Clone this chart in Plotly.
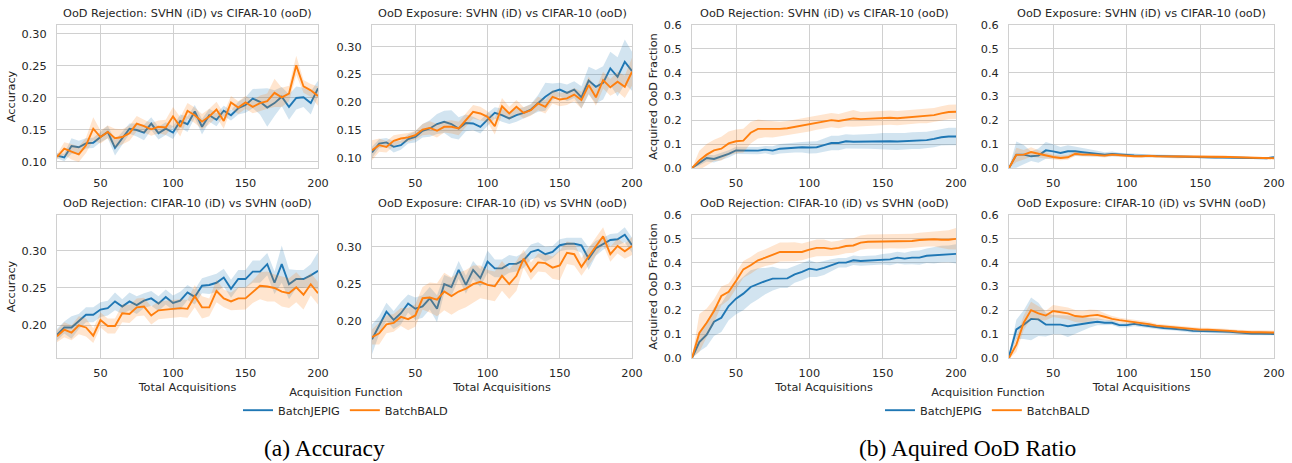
import plotly.graph_objects as go

W, H = 1292, 463
X = list(range(20, 201, 5))

# ---------- (a) Accuracy ----------
p1_jepig = [0.110,0.107,0.125,0.123,0.129,0.130,0.139,0.147,0.122,0.137,0.152,0.150,0.146,0.160,0.145,0.152,0.146,0.164,0.159,0.179,0.155,0.173,0.166,0.180,0.173,0.184,0.189,0.199,0.194,0.185,0.192,0.202,0.186,0.200,0.201,0.192,0.215]
p1_jepig_sd = [0.004,0.006,0.012,0.010,0.008,0.008,0.008,0.010,0.012,0.010,0.008,0.010,0.012,0.010,0.010,0.010,0.010,0.010,0.012,0.010,0.012,0.010,0.010,0.008,0.008,0.010,0.012,0.015,0.020,0.030,0.020,0.015,0.020,0.018,0.015,0.018,0.012]
p1_bald = [0.108,0.121,0.116,0.112,0.126,0.152,0.139,0.147,0.137,0.139,0.145,0.160,0.156,0.151,0.155,0.154,0.171,0.155,0.180,0.173,0.163,0.171,0.182,0.164,0.193,0.185,0.193,0.186,0.192,0.195,0.208,0.201,0.207,0.251,0.218,0.212,0.203]
p1_bald_sd = [0.004,0.010,0.012,0.012,0.012,0.018,0.010,0.010,0.015,0.012,0.012,0.012,0.010,0.010,0.010,0.012,0.015,0.015,0.012,0.012,0.012,0.012,0.012,0.012,0.010,0.010,0.010,0.010,0.012,0.012,0.022,0.015,0.012,0.015,0.010,0.010,0.015]

p2_jepig = [0.110,0.126,0.128,0.120,0.123,0.134,0.138,0.149,0.153,0.161,0.165,0.161,0.153,0.163,0.162,0.156,0.169,0.181,0.177,0.171,0.177,0.181,0.187,0.198,0.210,0.219,0.223,0.217,0.223,0.209,0.239,0.228,0.235,0.261,0.246,0.273,0.256]
p2_jepig_sd = [0.010,0.008,0.008,0.010,0.008,0.008,0.010,0.012,0.015,0.018,0.020,0.025,0.020,0.015,0.012,0.012,0.012,0.010,0.012,0.010,0.012,0.010,0.010,0.015,0.025,0.015,0.012,0.015,0.015,0.020,0.025,0.030,0.030,0.030,0.035,0.040,0.035]
p2_bald = [0.114,0.123,0.120,0.131,0.135,0.137,0.141,0.151,0.154,0.149,0.156,0.156,0.153,0.168,0.183,0.180,0.174,0.157,0.193,0.180,0.192,0.181,0.186,0.198,0.192,0.210,0.205,0.207,0.214,0.204,0.231,0.209,0.240,0.227,0.237,0.228,0.255]
p2_bald_sd = [0.018,0.012,0.010,0.010,0.008,0.008,0.008,0.010,0.012,0.012,0.010,0.012,0.012,0.012,0.012,0.012,0.010,0.015,0.015,0.012,0.012,0.010,0.010,0.012,0.012,0.012,0.012,0.012,0.012,0.015,0.015,0.015,0.015,0.015,0.018,0.020,0.025]

p3_jepig = [0.187,0.197,0.197,0.205,0.214,0.214,0.221,0.223,0.232,0.225,0.232,0.227,0.233,0.236,0.229,0.238,0.230,0.233,0.244,0.238,0.253,0.254,0.257,0.264,0.249,0.262,0.262,0.272,0.272,0.282,0.257,0.282,0.255,0.262,0.262,0.267,0.273]
p3_jepig_sd = [0.008,0.008,0.015,0.010,0.010,0.010,0.010,0.010,0.012,0.010,0.012,0.012,0.010,0.010,0.010,0.010,0.010,0.012,0.010,0.010,0.010,0.012,0.012,0.012,0.012,0.012,0.012,0.015,0.015,0.015,0.015,0.025,0.020,0.012,0.012,0.015,0.025]
p3_bald = [0.185,0.194,0.190,0.200,0.197,0.186,0.207,0.199,0.199,0.216,0.215,0.224,0.225,0.213,0.220,0.221,0.222,0.223,0.222,0.239,0.224,0.224,0.246,0.236,0.232,0.236,0.236,0.245,0.253,0.252,0.250,0.245,0.243,0.251,0.241,0.255,0.243]
p3_bald_sd = [0.008,0.010,0.010,0.012,0.012,0.010,0.010,0.010,0.010,0.012,0.012,0.012,0.012,0.012,0.012,0.012,0.012,0.012,0.012,0.015,0.015,0.012,0.015,0.012,0.012,0.015,0.015,0.015,0.018,0.020,0.018,0.020,0.020,0.020,0.020,0.015,0.015]

p4_jepig = [0.176,0.195,0.213,0.202,0.211,0.224,0.217,0.220,0.231,0.217,0.250,0.246,0.269,0.249,0.269,0.258,0.280,0.271,0.271,0.277,0.277,0.282,0.293,0.296,0.290,0.293,0.302,0.304,0.304,0.302,0.284,0.298,0.304,0.309,0.310,0.316,0.302]
p4_jepig_sd = [0.020,0.012,0.012,0.012,0.015,0.012,0.015,0.015,0.015,0.018,0.012,0.012,0.012,0.012,0.012,0.012,0.015,0.012,0.012,0.012,0.010,0.010,0.010,0.010,0.010,0.008,0.008,0.008,0.008,0.010,0.015,0.010,0.008,0.008,0.008,0.010,0.010]
p4_bald = [0.179,0.184,0.196,0.198,0.206,0.203,0.208,0.231,0.232,0.229,0.240,0.234,0.240,0.244,0.250,0.253,0.249,0.247,0.261,0.250,0.261,0.284,0.267,0.279,0.278,0.272,0.275,0.292,0.290,0.273,0.287,0.301,0.314,0.290,0.301,0.294,0.301]
p4_bald_sd = [0.010,0.015,0.012,0.012,0.012,0.015,0.015,0.015,0.020,0.022,0.025,0.025,0.025,0.025,0.025,0.022,0.020,0.020,0.020,0.020,0.020,0.012,0.012,0.012,0.012,0.015,0.020,0.015,0.015,0.012,0.012,0.012,0.012,0.010,0.010,0.010,0.012]

# ---------- (b) Acquired OoD fraction ----------
p5_jepig = [0.0,0.021,0.042,0.038,0.049,0.059,0.074,0.073,0.073,0.073,0.077,0.073,0.081,0.084,0.087,0.087,0.086,0.087,0.096,0.105,0.105,0.112,0.110,0.111,0.111,0.112,0.112,0.112,0.111,0.112,0.115,0.115,0.117,0.122,0.129,0.132,0.132]
p5_jepig_sd = [0.0,0.010,0.015,0.015,0.015,0.015,0.015,0.015,0.015,0.015,0.015,0.018,0.020,0.020,0.022,0.022,0.025,0.025,0.028,0.030,0.030,0.030,0.030,0.030,0.030,0.032,0.035,0.035,0.035,0.035,0.035,0.035,0.035,0.035,0.035,0.037,0.037]
p5_bald = [0.0,0.032,0.056,0.074,0.081,0.103,0.112,0.115,0.148,0.164,0.164,0.163,0.164,0.167,0.173,0.178,0.183,0.190,0.197,0.201,0.197,0.204,0.208,0.205,0.207,0.207,0.209,0.211,0.209,0.212,0.214,0.218,0.218,0.222,0.229,0.235,0.236]
p5_bald_sd = [0.0,0.040,0.045,0.045,0.050,0.050,0.050,0.050,0.045,0.040,0.035,0.035,0.030,0.030,0.030,0.030,0.030,0.030,0.030,0.030,0.030,0.030,0.035,0.030,0.030,0.030,0.030,0.030,0.030,0.030,0.030,0.030,0.030,0.030,0.030,0.030,0.030]

p6_jepig = [0.0,0.056,0.056,0.049,0.052,0.074,0.070,0.063,0.070,0.070,0.066,0.063,0.060,0.056,0.059,0.056,0.056,0.053,0.052,0.051,0.049,0.049,0.049,0.048,0.048,0.046,0.046,0.045,0.044,0.044,0.044,0.042,0.042,0.041,0.041,0.041,0.045]
p6_jepig_sd = [0.0,0.055,0.040,0.020,0.030,0.035,0.030,0.025,0.025,0.020,0.018,0.015,0.012,0.010,0.010,0.008,0.008,0.008,0.007,0.007,0.006,0.006,0.006,0.006,0.006,0.005,0.005,0.005,0.005,0.005,0.004,0.004,0.004,0.004,0.004,0.004,0.004]
p6_bald = [0.0,0.055,0.056,0.067,0.060,0.052,0.046,0.042,0.045,0.060,0.056,0.056,0.055,0.052,0.056,0.053,0.051,0.049,0.049,0.051,0.049,0.049,0.048,0.048,0.048,0.049,0.049,0.048,0.049,0.048,0.046,0.045,0.044,0.042,0.041,0.041,0.041]
p6_bald_sd = [0.0,0.030,0.020,0.020,0.015,0.012,0.010,0.010,0.010,0.010,0.008,0.008,0.008,0.008,0.007,0.007,0.006,0.006,0.006,0.006,0.006,0.006,0.006,0.008,0.006,0.006,0.005,0.005,0.005,0.005,0.005,0.004,0.004,0.004,0.004,0.004,0.004]

p7_jepig = [0.0,0.067,0.098,0.152,0.169,0.218,0.249,0.270,0.298,0.312,0.323,0.333,0.334,0.334,0.351,0.361,0.375,0.370,0.378,0.389,0.400,0.400,0.410,0.407,0.409,0.410,0.414,0.414,0.421,0.417,0.421,0.421,0.429,0.431,0.436,0.437,0.437]
p7_jepig_sd = [0.0,0.040,0.050,0.060,0.060,0.060,0.065,0.070,0.070,0.065,0.055,0.050,0.040,0.040,0.035,0.035,0.035,0.030,0.030,0.025,0.020,0.020,0.020,0.020,0.020,0.020,0.022,0.025,0.025,0.025,0.028,0.030,0.030,0.035,0.035,0.035,0.040]
p7_bald = [0.0,0.105,0.148,0.197,0.260,0.278,0.323,0.372,0.389,0.410,0.421,0.432,0.445,0.445,0.446,0.445,0.455,0.462,0.462,0.458,0.462,0.470,0.472,0.484,0.488,0.488,0.488,0.491,0.489,0.489,0.491,0.495,0.498,0.498,0.496,0.496,0.500]
p7_bald_sd = [0.0,0.080,0.060,0.050,0.040,0.035,0.035,0.035,0.035,0.035,0.035,0.040,0.040,0.040,0.040,0.035,0.035,0.035,0.035,0.030,0.030,0.030,0.030,0.030,0.030,0.030,0.030,0.030,0.030,0.030,0.030,0.030,0.030,0.030,0.035,0.040,0.045]

p8_jepig = [0.007,0.120,0.140,0.164,0.162,0.140,0.140,0.140,0.133,0.139,0.145,0.148,0.152,0.148,0.148,0.138,0.138,0.143,0.138,0.133,0.129,0.126,0.124,0.122,0.118,0.114,0.114,0.114,0.112,0.111,0.110,0.107,0.104,0.103,0.103,0.103,0.101]
p8_jepig_sd = [0.005,0.040,0.060,0.090,0.070,0.050,0.040,0.040,0.045,0.035,0.030,0.020,0.015,0.012,0.010,0.010,0.010,0.010,0.010,0.008,0.008,0.008,0.008,0.008,0.008,0.008,0.008,0.008,0.008,0.008,0.008,0.008,0.008,0.008,0.008,0.008,0.006]
p8_bald = [0.0,0.056,0.148,0.201,0.187,0.178,0.197,0.192,0.187,0.176,0.173,0.178,0.181,0.173,0.164,0.159,0.155,0.150,0.148,0.142,0.136,0.133,0.132,0.126,0.124,0.121,0.119,0.119,0.118,0.117,0.114,0.111,0.108,0.108,0.108,0.107,0.107]
p8_bald_sd = [0.005,0.030,0.030,0.035,0.030,0.020,0.025,0.025,0.025,0.025,0.025,0.025,0.020,0.015,0.012,0.010,0.010,0.010,0.010,0.010,0.008,0.008,0.008,0.008,0.008,0.008,0.008,0.008,0.008,0.008,0.008,0.008,0.008,0.008,0.008,0.008,0.008]

panel_titles = [
    "OoD Rejection: SVHN (iD) vs CIFAR-10 (ooD)",
    "OoD Exposure: SVHN (iD) vs CIFAR-10 (ooD)",
    "OoD Rejection: SVHN (iD) vs CIFAR-10 (ooD)",
    "OoD Exposure: SVHN (iD) vs CIFAR-10 (ooD)",
    "OoD Rejection: CIFAR-10 (iD) vs SVHN (ooD)",
    "OoD Exposure: CIFAR-10 (iD) vs SVHN (ooD)",
    "OoD Rejection: CIFAR-10 (iD) vs SVHN (ooD)",
    "OoD Exposure: CIFAR-10 (iD) vs SVHN (ooD)",
]
series_names = ["BatchJEPIG", "BatchBALD"]
legend_title = "Acquisition Function"
x_title = "Total Acquisitions"
y_titles = {0: "Accuracy", 2: "Acquired OoD Fraction"}
captions = ["(a) Accuracy", "(b) Aquired OoD Ratio"]

# panels: (row, col, jepig, jepig_sd, bald, bald_sd, y-range, dtick, fmt)
panels = [
    (0, 0, p1_jepig, p1_jepig_sd, p1_bald, p1_bald_sd, [0.0906, 0.314], 0.05, ".2f"),
    (0, 1, p2_jepig, p2_jepig_sd, p2_bald, p2_bald_sd, [0.082, 0.339], 0.05, ".2f"),
    (0, 2, p5_jepig, p5_jepig_sd, p5_bald, p5_bald_sd, [0.0, 0.6], 0.1, ".1f"),
    (0, 3, p6_jepig, p6_jepig_sd, p6_bald, p6_bald_sd, [0.0, 0.6], 0.1, ".1f"),
    (1, 0, p3_jepig, p3_jepig_sd, p3_bald, p3_bald_sd, [0.156, 0.348], 0.05, ".2f"),
    (1, 1, p4_jepig, p4_jepig_sd, p4_bald, p4_bald_sd, [0.151, 0.3425], 0.05, ".2f"),
    (1, 2, p7_jepig, p7_jepig_sd, p7_bald, p7_bald_sd, [0.0, 0.6], 0.1, ".1f"),
    (1, 3, p8_jepig, p8_jepig_sd, p8_bald, p8_bald_sd, [0.0, 0.6], 0.1, ".1f"),
]

for p in panels:
    for arr in p[2:6]:
        assert len(arr) == len(X), (p[0], p[1], len(arr))

# layout geometry in pixels
col_px = [(57, 318), (372, 632), (692, 956), (1009, 1274)]
row_px = [(25, 168), (215, 358)]

BLUE = "#1f77b4"
ORANGE = "#ff7f0e"
BLUE_F = "rgba(31,119,180,0.2)"
ORANGE_F = "rgba(255,127,14,0.2)"
TXT = "#262626"
GRID = "#d0d0d0"
FONT = "DejaVu Sans"
FS = 11.3

fig = go.Figure()
layout = dict(
    template="none",
    width=W, height=H, margin=dict(l=0, r=0, t=0, b=0, pad=0, autoexpand=False),
    paper_bgcolor="white", plot_bgcolor="white",
    font=dict(family=FONT, size=FS, color=TXT),
    showlegend=True,
)
annotations = []

for i, (r, c, yj, sj, yb, sb, yr, dt, fmt) in enumerate(panels):
    idx = i + 1
    xa = "xaxis" if idx == 1 else f"xaxis{idx}"
    ya = "yaxis" if idx == 1 else f"yaxis{idx}"
    xref = "x" if idx == 1 else f"x{idx}"
    yref = "y" if idx == 1 else f"y{idx}"
    x0, x1 = col_px[c]
    t0, t1 = row_px[r]
    leg = "legend" if c < 2 else "legend2"
    first = (r == 0 and c in (0, 2))
    for name, ys, sds, col, fcol in [
        (series_names[0], yj, sj, BLUE, BLUE_F),
        (series_names[1], yb, sb, ORANGE, ORANGE_F),
    ]:
        upper = [m + s for m, s in zip(ys, sds)]
        lower = [m - s for m, s in zip(ys, sds)]
        fig.add_trace(go.Scatter(
            x=X + X[::-1], y=upper + lower[::-1], fill="toself",
            fillcolor=fcol, line=dict(width=0), mode="lines",
            hoverinfo="skip", showlegend=False, xaxis=xref, yaxis=yref,
        ))
        fig.add_trace(go.Scatter(
            x=X, y=ys, mode="lines", name=name,
            line=dict(color=col, width=1.9),
            showlegend=first, legend=leg, xaxis=xref, yaxis=yref,
        ))
    layout[xa] = dict(
        domain=[x0 / W, x1 / W], anchor=yref, range=[20, 200], automargin=False,
        tickvals=[50, 100, 150, 200], showgrid=True, gridcolor=GRID, gridwidth=1,
        showline=True, mirror=True, linecolor=GRID, linewidth=1,
        zeroline=False, ticks="", ticklabelstandoff=4,
        tickfont=dict(size=FS, color=TXT),
        title=dict(text=x_title if r == 1 else "", standoff=4, font=dict(size=FS, color=TXT)),
    )
    layout[ya] = dict(
        domain=[1 - t1 / H, 1 - t0 / H], anchor=xref, range=yr, automargin=False,
        tick0=0, dtick=dt, tickformat=fmt, showgrid=True, gridcolor=GRID, gridwidth=1,
        showline=True, mirror=True, linecolor=GRID, linewidth=1,
        zeroline=False, ticks="", ticklabelstandoff=7,
        tickfont=dict(size=FS, color=TXT),
        title=dict(text=y_titles.get(c, ""), standoff=3, font=dict(size=FS, color=TXT)),
    )
    annotations.append(dict(
        text=panel_titles[i], xref="paper", yref="paper",
        x=(x0 + x1) / 2 / W, y=1 - t0 / H, yshift=3,
        xanchor="center", yanchor="bottom", showarrow=False,
        font=dict(size=FS, color=TXT, family=FONT),
    ))

for cx, txt in [(324, captions[0]), (967, captions[1])]:
    annotations.append(dict(
        text=txt, xref="paper", yref="paper", x=cx / W, y=1 - 448 / H,
        xanchor="center", yanchor="middle", showarrow=False,
        font=dict(size=23.5, color="black", family="Liberation Serif"),
    ))

leg_common = dict(
    orientation="h", xanchor="center", yanchor="top", y=1 - 381 / H,
    bgcolor="rgba(0,0,0,0)", font=dict(size=FS, color=TXT, family=FONT),
    title=dict(text=legend_title, side="top center", font=dict(size=FS, color=TXT)),
    itemwidth=30, tracegroupgap=0,
)
layout["legend"] = dict(leg_common, x=346 / W)
layout["legend2"] = dict(leg_common, x=988 / W)
layout["annotations"] = annotations
fig.update_layout(**layout)
fig.write_html(
    "out.html",
    config={"displayModeBar": False},
    post_script="document.body.style.margin='0';document.body.style.overflow='hidden';",
)
